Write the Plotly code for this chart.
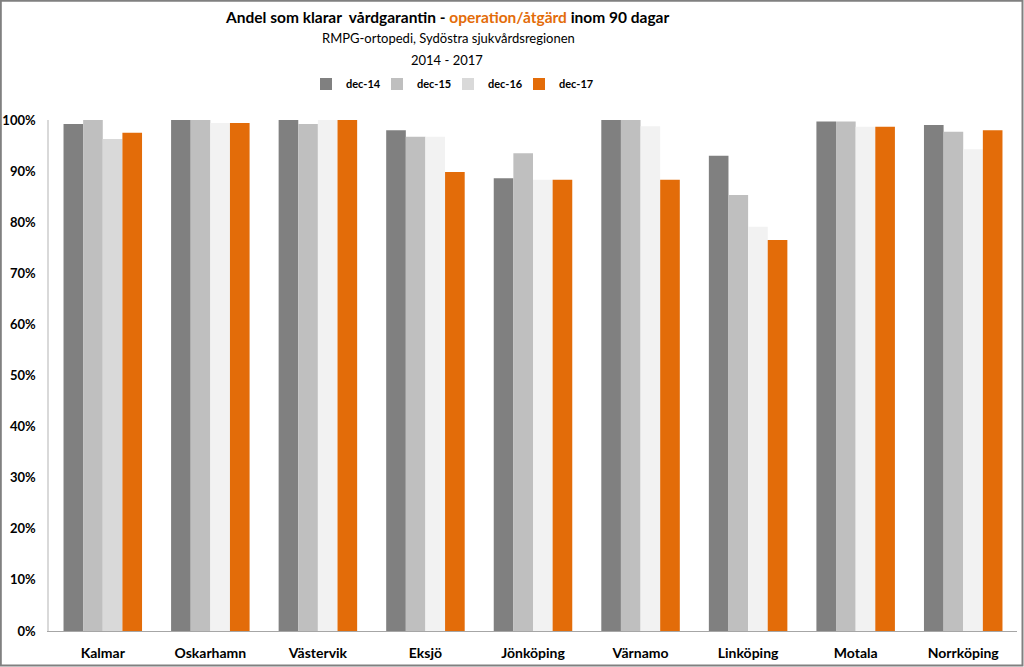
import plotly.graph_objects as go

categories = ["Kalmar", "Oskarhamn", "Västervik", "Eksjö", "Jönköping",
              "Värnamo", "Linköping", "Motala", "Norrköping"]
series_names = ["dec-14", "dec-15", "dec-16", "dec-17"]
dec14 = [0.992, 1.000, 1.000, 0.980, 0.886, 1.000, 0.930, 0.997, 0.990]
dec15 = [1.000, 1.000, 0.992, 0.967, 0.935, 1.000, 0.853, 0.997, 0.977]
dec16 = [0.963, 0.994, 1.000, 0.967, 0.883, 0.988, 0.791, 0.987, 0.943]
dec17 = [0.975, 0.994, 1.000, 0.898, 0.883, 0.883, 0.765, 0.987, 0.980]
y_ticks = [0, 0.1, 0.2, 0.3, 0.4, 0.5, 0.6, 0.7, 0.8, 0.9, 1.0]

colors = ["#808080", "#BFBFBF", "#F2F2F2", "#E36C09"]
font_family = "Lato, 'Liberation Sans', sans-serif"

fig = go.Figure()
for name, vals, col in zip(series_names, [dec14, dec15, dec16, dec17], colors):
    mcol = [col] * len(vals)
    if name == "dec-16":
        mcol[0] = "#D9D9D9"
    fig.add_trace(go.Bar(x=categories, y=vals, name=name,
                         marker=dict(color=mcol, line=dict(width=0))))

# invisible spacer entry so the last legend label is not clipped
fig.add_trace(go.Scatter(x=[None], y=[None], mode="markers", name=" ",
                         marker=dict(color="rgba(0,0,0,0)"), hoverinfo="skip"))

W, H = 1024, 667
ml, mr, mt, mb = 49, 7, 120, 36
pw = W - ml - mr
ph = H - mt - mb

def px(xpix):
    return (xpix - ml) / pw

def py(ypix):
    return (H - mb - ypix) / ph

fig.update_layout(
    width=W, height=H,
    margin=dict(l=ml, r=mr, t=mt, b=mb, autoexpand=False),
    paper_bgcolor="white", plot_bgcolor="white",
    barmode="group", bargap=0.27, bargroupgap=0,
    font=dict(family=font_family, color="#000000"),
    showlegend=True,
    legend=dict(orientation="h", x=px(306), y=py(84), xanchor="left", yanchor="middle",
                font=dict(size=11, family=font_family, weight="bold"),
                itemwidth=30, entrywidth=26, entrywidthmode="pixels",
                traceorder="normal", bgcolor="rgba(0,0,0,0)"),
    xaxis=dict(showline=True, linecolor="#A6A6A6", linewidth=1, ticks="",
               tickfont=dict(size=14, family=font_family, weight="bold"),
               ticklabelstandoff=9, showgrid=False),
    yaxis=dict(range=[0, 1], tickvals=y_ticks, tickformat=".0%",
               showline=True, linecolor="#D9D9D9", linewidth=1.5, ticks="",
               showgrid=False, zeroline=False, ticklabelstandoff=9,
               tickfont=dict(size=13, family=font_family, weight="bold")),
    annotations=[
        dict(text="<b>Andel som klarar  vårdgarantin - <span style='color:#E36C09'>operation/åtgärd</span> inom 90 dagar</b>",
             xref="paper", yref="paper", x=px(447), y=py(17), showarrow=False,
             xanchor="center", yanchor="middle", font=dict(size=15.5, family=font_family)),
        dict(text="RMPG-ortopedi, Sydöstra sjukvårdsregionen",
             xref="paper", yref="paper", x=px(448), y=py(38), showarrow=False,
             xanchor="center", yanchor="middle", font=dict(size=13, family=font_family)),
        dict(text="2014 - 2017",
             xref="paper", yref="paper", x=px(447), y=py(60), showarrow=False,
             xanchor="center", yanchor="middle", font=dict(size=13, family=font_family)),
    ],
    shapes=[dict(type="rect", xref="paper", yref="paper",
                 x0=px(0.8), x1=px(1022.5), y0=py(665.5), y1=py(0.8),
                 line=dict(color="#808080", width=2), fillcolor="rgba(0,0,0,0)")],
)

fig.write_html("out.html", config={"displayModeBar": False},
               post_script="document.body.style.margin='0';document.body.style.overflow='hidden';")
